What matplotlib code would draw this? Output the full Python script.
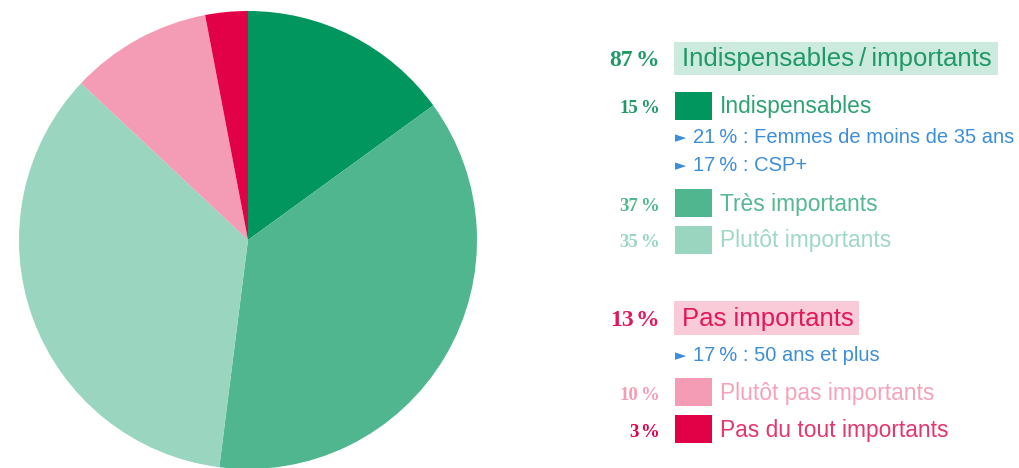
import matplotlib
matplotlib.use("Agg")
import matplotlib.pyplot as plt
from matplotlib.patches import Rectangle

W, H = 1020, 468

# pie slices, clockwise from the top
slice_labels = ["Indispensables", "Très importants", "Plutôt importants",
                "Plutôt pas importants", "Pas du tout importants"]
slice_values = [15, 37, 35, 10, 3]
slice_colors = ["#01965e", "#4fb68f", "#99d5bf", "#f49cb5", "#e20046"]
label_colors = ["#2ea372", "#55b892", "#9fd8c3", "#f5a3bb", "#e4376b"]

group_labels = ["Indispensables\u2009/\u2009importants", "Pas importants"]
group_values = [87, 13]
group_colors = ["#1f9966", "#e2185a"]
group_bg = ["#cdeadf", "#f9cbd8"]

sub_notes = ["21\u2009% : Femmes de moins de 35 ans", "17\u2009% : CSP+",
             "17\u2009% : 50 ans et plus"]
blue = "#3d8ed8"

serif = ["Liberation Serif", "DejaVu Serif"]
sans = ["Liberation Sans", "DejaVu Sans"]


def fx(x):
    return x / W


def fy(y):
    return 1 - y / H


fig = plt.figure(figsize=(W / 100, H / 100), dpi=100)
renderer = fig.canvas.get_renderer()

# pie centred at (248, 240) px with radius 229 px
cx, cy, r = 248, 240, 229
ax = fig.add_axes([fx(cx - r), fy(cy + r), 2 * r / W, 2 * r / H])
ax.pie(slice_values, colors=slice_colors, startangle=90, counterclock=False,
       wedgeprops=dict(linewidth=0))
ax.set_xlim(-1, 1)
ax.set_ylim(-1, 1)
ax.set_aspect("equal")
ax.axis("off")

pct_right = 659
box_left = 674


def pct(y, value, color, size):
    # number and % sign drawn apart so the gap stays narrow
    sign = fig.text(fx(pct_right), fy(y), "%", color=color, fontsize=size,
                    fontweight="bold", family=serif, ha="right", va="baseline")
    w = sign.get_window_extent(renderer).width
    fig.text(fx(pct_right - w - 2), fy(y), str(value), color=color, fontsize=size,
             fontweight="bold", family=serif, ha="right", va="baseline")


def header(y, top, bottom, width, text, value, color, bg):
    fig.add_artist(Rectangle((fx(box_left), fy(bottom)), width / W, (bottom - top) / H,
                             transform=fig.transFigure, color=bg, lw=0))
    pct(y, value, color, 17)
    fig.text(fx(box_left + 8), fy(y), text, color=color, fontsize=18.5,
             family=sans, ha="left", va="baseline")


def item(y, top, idx):
    fig.add_artist(Rectangle((fx(box_left + 1), fy(top + 28)), 37 / W, 28 / H,
                             transform=fig.transFigure, color=slice_colors[idx], lw=0))
    pct(y, slice_values[idx], slice_colors[idx] if idx != 0 else group_colors[0], 13.5)
    fig.text(fx(box_left + 46), fy(y), slice_labels[idx], color=label_colors[idx],
             fontsize=16.4, family=sans, ha="left", va="baseline")


def note(y, text):
    fig.text(fx(box_left + 1), fy(y - 0.5), "\u25ba", color=blue, fontsize=10.5,
             family=["DejaVu Sans"], ha="left", va="baseline")
    fig.text(fx(box_left + 19), fy(y), text, color=blue, fontsize=14.5,
             family=sans, ha="left", va="baseline")


header(66, 42, 75, 324, group_labels[0], group_values[0], group_colors[0], group_bg[0])
item(113, 92, 0)
note(143, sub_notes[0])
note(171, sub_notes[1])
item(211, 189, 1)
item(247, 226, 2)

header(326, 301, 335, 185, group_labels[1], group_values[1], group_colors[1], group_bg[1])
note(361, sub_notes[2])
item(400, 378, 3)
item(437, 415, 4)

fig.savefig("out.png", dpi=100)
